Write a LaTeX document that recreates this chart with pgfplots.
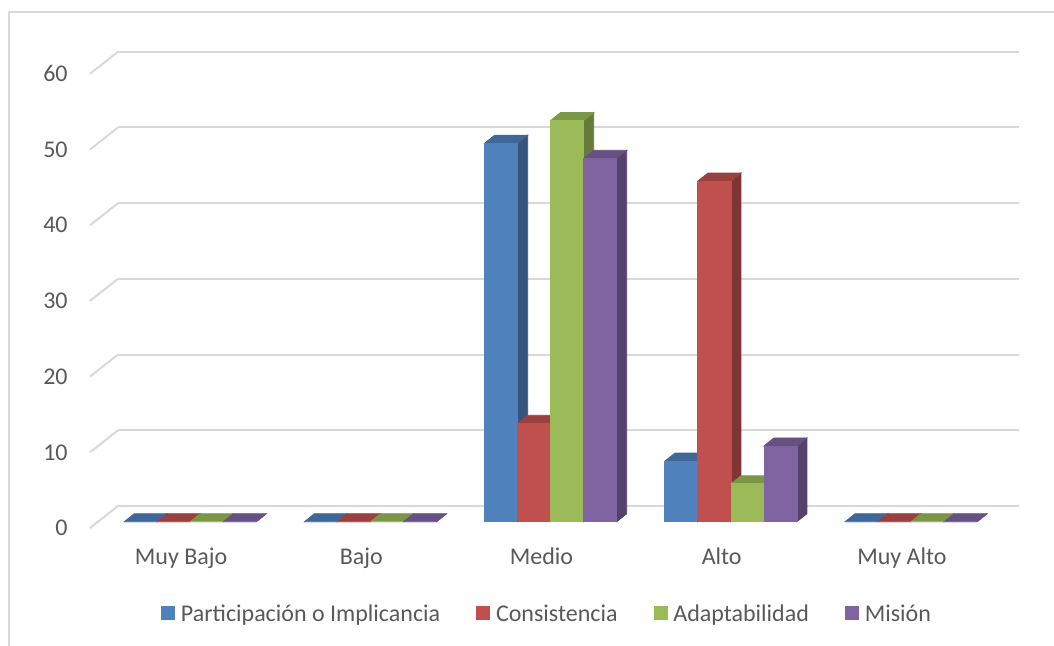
\documentclass[border=0pt]{standalone}
\usepackage{fontspec}
\setmainfont{Carlito}
\usepackage{pgfplots}
\usepackage{pgfplotstable}
\pgfplotsset{compat=1.18}

\definecolor{txt}{HTML}{595959}
\definecolor{gridc}{HTML}{D9D9D9}
\definecolor{cA}{HTML}{4F81BD}
\definecolor{cB}{HTML}{C0504D}
\definecolor{cC}{HTML}{9BBB59}
\definecolor{cD}{HTML}{8064A2}
\colorlet{cAt}{cA!80!black}\colorlet{cAs}{cA!66!black}
\colorlet{cBt}{cB!80!black}\colorlet{cBs}{cB!66!black}
\colorlet{cCt}{cC!80!black}\colorlet{cCs}{cC!66!black}
\colorlet{cDt}{cD!80!black}\colorlet{cDs}{cD!66!black}

\newcommand\f{\fontsize{12pt}{14pt}\selectfont}

% Participacion o Implicancia
\pgfplotstableread{
c v
0 0
1 0
2 50
3 8
4 0
}\tP
% Consistencia
\pgfplotstableread{
c v
0 0
1 0
2 13
3 45
4 0
}\tC
% Adaptabilidad
\pgfplotstableread{
c v
0 0
1 0
2 53
3 5
4 0
}\tA
% Mision
\pgfplotstableread{
c v
0 0
1 0
2 48
3 10
4 0
}\tM

\pgfplotsset{
  box3d/.style n args={4}{
    scatter, only marks, mark=*, mark size=0.01pt, forget plot,
    point meta=explicit symbolic,
    scatter/@pre marker code/.code={%
      \pgfmathsetlengthmacro\hh{\pgfplotspointmeta*3.785pt}%
      \pgfmathsetlengthmacro\xl{#4-8.25pt}%
      \pgfmathsetlengthmacro\xr{#4+8.25pt}%
      \fill[#3] (\xr,-\hh) -- (\xr+5pt,-\hh+4pt) -- (\xr+5pt,4pt) -- (\xr,0pt) -- cycle;
      \fill[#2] (\xl,0pt) -- (\xl+5pt,4pt) -- (\xr+5pt,4pt) -- (\xr,0pt) -- cycle;
      \fill[#1] (\xl,-\hh) rectangle (\xr,0pt);
      \begin{scope}[opacity=0]%
    },
    scatter/@post marker code/.code={\end{scope}},
  },
}

\begin{document}
\begin{tikzpicture}
% outer frame
\draw[gridc, line width=1pt] (4.5pt,-20pt) rectangle (600pt,317pt);

% back wall with gridlines and value labels
\begin{axis}[
  at={(59pt,70pt)}, anchor=south west,
  scale only axis, width=450.5pt, height=227.1pt,
  xmin=-0.5, xmax=4.5, ymin=0, ymax=60,
  axis line style={draw=none}, tick style={draw=none},
  major tick length=0pt,
  xtick=\empty, ytick={0,10,...,60},
  ymajorgrids, grid style={gridc, line width=1pt},
  /pgf/number format/assume math mode=true,
  yticklabel style={font=\f, text=txt, anchor=east, inner sep=0pt, xshift=-25pt, yshift=-11pt},
  clip=false,
]
\pgfplotsinvokeforeach{0,10,...,60}{
  \draw[gridc, line width=1pt] (axis cs:-0.5,#1) -- ++(-14pt,-11pt);
}
\end{axis}

% bars
\begin{axis}[
  at={(50.1pt,62.15pt)}, anchor=south west,
  scale only axis, width=450.5pt, height=227.1pt,
  xmin=-0.5, xmax=4.5, ymin=0, ymax=60,
  axis line style={draw=none}, tick style={draw=none},
  major tick length=0pt,
  ytick=\empty, xtick={0,1,2,3,4},
  xticklabels={Muy Bajo,Bajo,Medio,Alto,Muy Alto},
  xticklabel style={font=\f, text=txt, anchor=base, inner sep=0pt, yshift=-21.5pt, xshift=-4.6pt},
  clip=false,
  legend columns=4,
  legend style={draw=none, fill=none, font=\f, text=txt,
    at={(axis description cs:0.4948,-0.2054)}, anchor=center,
    nodes={inner sep=0pt},
    /tikz/every odd column/.append style={column sep=3pt},
    /tikz/every even column/.append style={column sep=18pt}},
]
\addplot[box3d={cA}{cAt}{cAs}{-24.75pt}] table[x=c,y=v,meta=v]{\tP};
\addplot[box3d={cB}{cBt}{cBs}{-8.25pt}] table[x=c,y=v,meta=v]{\tC};
\addplot[box3d={cC}{cCt}{cCs}{8.25pt}] table[x=c,y=v,meta=v]{\tA};
\addplot[box3d={cD}{cDt}{cDs}{24.75pt}] table[x=c,y=v,meta=v]{\tM};

\addlegendimage{legend image code/.code={\fill[cA] (0pt,-2.25pt) rectangle (6.5pt,4.25pt);}}
\addlegendentry{Participación o Implicancia}
\addlegendimage{legend image code/.code={\fill[cB] (0pt,-2.25pt) rectangle (6.5pt,4.25pt);}}
\addlegendentry{Consistencia}
\addlegendimage{legend image code/.code={\fill[cC] (0pt,-2.25pt) rectangle (6.5pt,4.25pt);}}
\addlegendentry{Adaptabilidad}
\addlegendimage{legend image code/.code={\fill[cD] (0pt,-2.25pt) rectangle (6.5pt,4.25pt);}}
\addlegendentry{Misión}
\end{axis}

\pgfresetboundingbox
\useasboundingbox (0,0) rectangle (527pt,323pt);
\end{tikzpicture}
\end{document}
